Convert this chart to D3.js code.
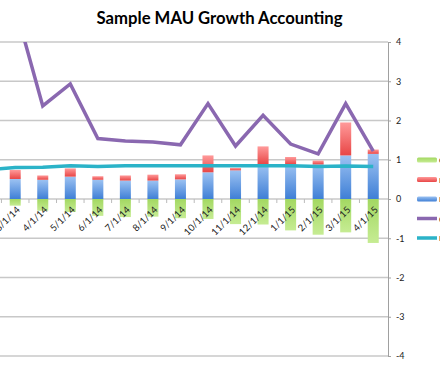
<!DOCTYPE html>
<html>
<head>
<meta charset="utf-8">
<script src="https://cdn.jsdelivr.net/npm/d3@7"></script>
<style>
  html, body { margin: 0; padding: 0; background: #fff; overflow: hidden; }
  svg { display: block; }
  text { font-family: Lato, "Liberation Sans", sans-serif; }
</style>
</head>
<body>
<script>
// ---- data ----
const categories = ["2/1/14","3/1/14","4/1/14","5/1/14","6/1/14","7/1/14","8/1/14","9/1/14","10/1/14","11/1/14","12/1/14","1/1/15","2/1/15","3/1/15","4/1/15"];
const newUsers    = [0.45, 0.51, 0.49, 0.57, 0.49, 0.47, 0.47, 0.50, 0.68, 0.73, 0.88, 0.88, 0.88, 1.11, 1.15];
const resurrected = [0.15, 0.23, 0.11, 0.21, 0.09, 0.13, 0.15, 0.13, 0.43, 0.06, 0.46, 0.19, 0.10, 0.84, 0.11];
const churned     = [-0.12, -0.17, -0.30, -0.33, -0.43, -0.46, -0.45, -0.49, -0.51, -0.64, -0.65, -0.80, -0.91, -0.85, -1.12];
const quickRatio  = [5.8, 4.9, 2.37, 2.93, 1.54, 1.48, 1.45, 1.38, 2.43, 1.35, 2.13, 1.40, 1.15, 2.43, 1.22];
const retained    = [0.75, 0.80, 0.81, 0.85, 0.83, 0.85, 0.85, 0.85, 0.85, 0.85, 0.85, 0.85, 0.83, 0.84, 0.83];
const yTicks = [-4, -3, -2, -1, 0, 1, 2, 3, 4];
const legendLabels = ["churned", "resurrected", "new", "quick ratio", "retained"];
const titleText = "Sample MAU Growth Accounting";

// ---- layout ----
const W = 440, H = 367;
const plotTop = 42, plotBottom = 356, plotRight = 388, plotLeft = -30;

const svg = d3.select("body").append("svg").attr("width", W).attr("height", H);
const defs = svg.append("defs");

function grad(id, c1, c2) {
  const g = defs.append("linearGradient").attr("id", id)
    .attr("x1", 0).attr("y1", 0).attr("x2", 0).attr("y2", 1);
  g.append("stop").attr("offset", "0%").attr("stop-color", c1);
  g.append("stop").attr("offset", "100%").attr("stop-color", c2);
}
grad("gBlue", "#9cc2f2", "#3f7fd6");
grad("gRed", "#ff9a9a", "#e84646");
grad("gGreen", "#a3d862", "#c6ec93");

defs.append("clipPath").attr("id", "plotClip")
  .append("rect").attr("x", plotLeft).attr("y", plotTop)
  .attr("width", plotRight - plotLeft).attr("height", plotBottom - plotTop);

const x = d3.scaleBand().domain(categories).range([-26.1, 387])
  .paddingInner(0.6).paddingOuter(0.3);
const y = d3.scaleLinear().domain([-4, 4]).range([plotBottom, plotTop]);
const cx = c => x(c) + x.bandwidth() / 2;

// title
svg.append("text").attr("x", 219.5).attr("y", 24)
  .attr("text-anchor", "middle").attr("font-weight", "bold")
  .attr("font-size", 16.7).attr("fill", "#000").text(titleText);

// gridlines
svg.append("g").selectAll("line").data(yTicks).join("line")
  .attr("x1", plotLeft).attr("x2", plotRight)
  .attr("y1", d => y(d)).attr("y2", d => y(d))
  .attr("stroke", "#c8c8c8").attr("stroke-width", 1.5);

// category tick marks on zero line
const step = x.step();
svg.append("g").selectAll("line").data(categories).join("line")
  .attr("x1", d => cx(d) - step / 2).attr("x2", d => cx(d) - step / 2)
  .attr("y1", y(0)).attr("y2", y(0) + 4)
  .attr("stroke", "#bbbbbb").attr("stroke-width", 1);

// bars
const bars = svg.append("g");
bars.selectAll("rect.new").data(categories).join("rect").attr("class", "new")
  .attr("x", d => x(d)).attr("width", x.bandwidth())
  .attr("y", (d, i) => y(newUsers[i])).attr("height", (d, i) => y(0) - y(newUsers[i]))
  .attr("fill", "url(#gBlue)");
bars.selectAll("rect.res").data(categories).join("rect").attr("class", "res")
  .attr("x", d => x(d)).attr("width", x.bandwidth())
  .attr("y", (d, i) => y(newUsers[i] + resurrected[i]))
  .attr("height", (d, i) => y(newUsers[i]) - y(newUsers[i] + resurrected[i]))
  .attr("fill", "url(#gRed)");
bars.selectAll("rect.churn").data(categories).join("rect").attr("class", "churn")
  .attr("x", d => x(d)).attr("width", x.bandwidth())
  .attr("y", y(0)).attr("height", (d, i) => y(churned[i]) - y(0))
  .attr("fill", "url(#gGreen)");

// lines
const lineGen = vals => d3.line().x((d, i) => cx(categories[i])).y(d => y(d))(vals);
const lines = svg.append("g").attr("clip-path", "url(#plotClip)");
lines.append("path").attr("d", lineGen(quickRatio))
  .attr("fill", "none").attr("stroke", "#8a68b0").attr("stroke-width", 3.5)
  .attr("stroke-linejoin", "miter");
lines.append("path").attr("d", lineGen(retained))
  .attr("fill", "none").attr("stroke", "#2bb3c8").attr("stroke-width", 3.5);

// right axis
const axis = svg.append("g").attr("transform", `translate(${plotRight},0)`)
  .call(d3.axisRight(y).tickValues(yTicks).tickSizeInner(3).tickSizeOuter(0)
    .tickPadding(5).tickFormat(d => String(d)));
axis.select(".domain").attr("stroke", "#a0a0a0");
axis.selectAll(".tick line").attr("stroke", "#a0a0a0");
axis.selectAll(".tick text").attr("font-size", 9).attr("fill", "#222")
  .attr("font-family", "Lato, 'Liberation Sans', sans-serif");

// x labels
svg.append("g").selectAll("text").data(categories).join("text")
  .attr("transform", d => `translate(${cx(d) + 3},${y(0) + 9}) rotate(-45)`)
  .attr("text-anchor", "end").attr("dy", "0.35em")
  .attr("font-size", 9.5).attr("fill", "#222").text(d => d);

// legend
const legendY = [160, 179.5, 199, 218.5, 238];
const legendStyle = [
  {type: "bar", fill: "url(#gGreen)"},
  {type: "bar", fill: "url(#gRed)"},
  {type: "bar", fill: "url(#gBlue)"},
  {type: "line", fill: "#8a68b0"},
  {type: "line", fill: "#2bb3c8"}
];
const leg = svg.append("g");
legendLabels.forEach((lab, i) => {
  const s = legendStyle[i];
  const h = s.type === "bar" ? 5 : 3.5;
  leg.append("rect").attr("x", 417).attr("y", legendY[i] - h / 2)
    .attr("width", 20).attr("height", h).attr("rx", s.type === "bar" ? 1.5 : 0)
    .attr("fill", s.fill);
  leg.append("text").attr("x", 439).attr("y", legendY[i]).attr("dy", "0.35em")
    .attr("font-size", 9).attr("fill", "#222").text(lab);
});
</script>
</body>
</html>
